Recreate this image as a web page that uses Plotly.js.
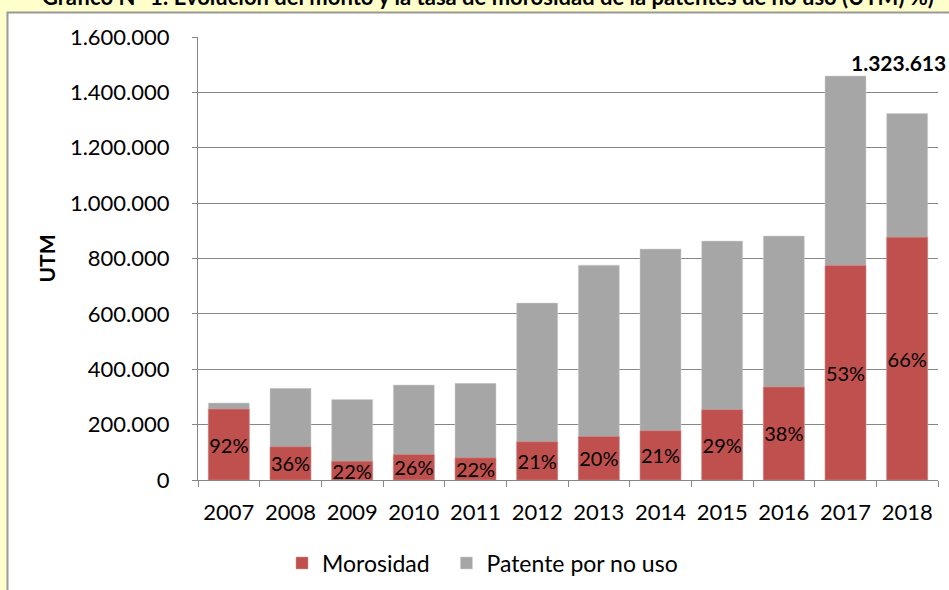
<!DOCTYPE html>
<html>
<head>
<meta charset="utf-8">
<script src="https://cdn.plot.ly/plotly-3.0.1.min.js"></script>
<style>html,body{margin:0;padding:0;background:#FFFFCC;overflow:hidden}#chart{width:949px;height:590px}</style>
</head>
<body>
<div id="chart"></div>
<script>
var years = ['2007','2008','2009','2010','2011','2012','2013','2014','2015','2016','2017','2018'];
var patente = [278000, 331000, 291000, 343000, 349000, 639000, 776000, 834000, 863000, 881000, 1459000, 1323613];
var morosidad = [256000, 120000, 68000, 92000, 80000, 138000, 157000, 178000, 254000, 336000, 775000, 877000];
var tasaLabels = ['92%','36%','22%','26%','22%','21%','20%','21%','29%','38%','53%','66%'];
var seriesNames = ['Morosidad', 'Patente por no uso'];
var titleText = 'Gráfico N° 1: Evolución del monto y la tasa de morosidad de la patentes de no uso (UTM) %)';
var highlightYear = '2018';

function fmt(n){ return String(n).replace(/\B(?=(\d{3})+(?!\d))/g, '.'); }
var hlIndex = years.indexOf(highlightYear);
var hlValue = patente[hlIndex];

var FONT = 'Lato, "Open Sans", sans-serif';
var L = 198, R = 938, T = 37, B = 480;
var W = R - L, H = B - T;
function px(x){ return (x - L) / W; }
function py(y){ return (B - y) / H; }

var traces = [
  {
    type: 'bar', name: seriesNames[1], x: years, y: patente,
    marker: {color: '#A6A6A6', line: {color: '#D0D0D0', width: 0.5}},
    hoverinfo: 'x+y'
  },
  {
    type: 'bar', name: seriesNames[0] + '\u00a0\u00a0', x: years, y: morosidad,
    marker: {color: '#C0504D', line: {color: '#D99694', width: 0.5}},
    text: tasaLabels, textposition: 'inside', insidetextanchor: 'middle',
    textangle: 0, constraintext: 'none', cliponaxis: false,
    textfont: {family: FONT, size: 20, color: '#000'},
    hoverinfo: 'x+y'
  }
];

var layout = {
  width: 949, height: 590,
  margin: {l: L, r: 949 - R, t: T, b: 590 - B, pad: 0, autoexpand: false},
  paper_bgcolor: '#FFFFCC',
  plot_bgcolor: 'rgba(0,0,0,0)',
  separators: ',.',
  barmode: 'overlay',
  bargap: 0.335,
  font: {family: FONT, color: '#000'},
  showlegend: true,
  legend: {
    orientation: 'h', traceorder: 'reversed',
    x: px(282), xanchor: 'left', y: py(563), yanchor: 'middle',
    font: {family: FONT, size: 23, color: '#000'},
    bgcolor: 'rgba(0,0,0,0)', itemwidth: 30
  },
  xaxis: {
    type: 'category', tickson: 'boundaries', ticks: 'outside', ticklen: 6,
    tickcolor: '#868686', showline: true, linecolor: '#868686', linewidth: 1,
    tickfont: {family: FONT, size: 22, color: '#000'}, ticklabelstandoff: 13,
    showgrid: false, fixedrange: true, range: [-0.5, years.length - 0.5]
  },
  yaxis: {
    range: [0, 1600000], dtick: 200000, tickformat: ',d',
    ticks: 'outside', ticklen: 5, tickcolor: '#868686',
    showline: true, linecolor: '#868686', linewidth: 1,
    gridcolor: '#868686', gridwidth: 1, zeroline: false,
    tickfont: {family: FONT, size: 22, color: '#000'}, ticklabelstandoff: 18,
    title: {text: '<b>UTM</b>', font: {family: FONT, size: 21, color: '#000'}, standoff: 8},
    automargin: false, fixedrange: true
  },
  shapes: [
    {type: 'rect', xref: 'paper', yref: 'paper', layer: 'below',
     x0: px(7.5), x1: px(1200), y0: py(800), y1: py(12.5),
     fillcolor: '#FFFFFF', line: {color: '#999999', width: 2}}
  ],
  annotations: [
    {xref: 'paper', yref: 'paper', x: px(40), y: py(12), xanchor: 'left', yanchor: 'bottom',
     text: '<b>' + titleText + '</b>', showarrow: false,
     font: {family: FONT, size: 22, color: '#000'}},
    {xref: 'x', yref: 'paper', x: hlIndex, y: py(62), xanchor: 'left', yanchor: 'middle',
     xshift: -58, text: '<b>' + fmt(hlValue) + '</b>', showarrow: false,
     font: {family: FONT, size: 21, color: '#000'}}
  ]
};

Plotly.newPlot('chart', traces, layout, {displayModeBar: false, staticPlot: true});
</script>
</body>
</html>
